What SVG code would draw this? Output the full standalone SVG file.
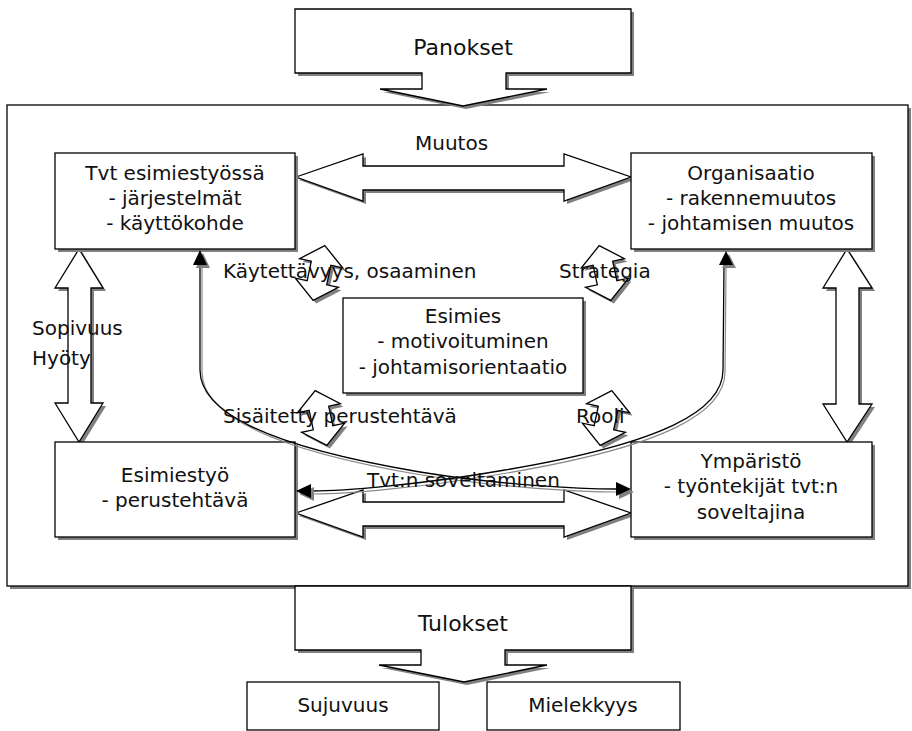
<svg xmlns="http://www.w3.org/2000/svg" width="912" height="731" viewBox="0 0 912 731">
<defs>
<style>
.box{fill:#fff;stroke:#000;stroke-width:1.3}
.sh{fill:#808080;stroke:none}
.t{font-family:"DejaVu Sans","Verdana",sans-serif;font-size:20px;fill:#111}
.tb{font-family:"DejaVu Sans","Verdana",sans-serif;font-size:22px;fill:#111}
.c{text-anchor:middle}
.ln{fill:none;stroke:#000;stroke-width:1.3}
.lns{fill:none;stroke:#8a8a8a;stroke-width:1.2}
</style>
<polygon id="ud" points="0,-28 22,-10 10,-10 10,10 22,10 0,28 -22,10 -10,10 -10,-10 -22,-10"/>
</defs>
<rect width="912" height="731" fill="#fff"/>

<!-- outer frame -->
<g id="frame">
<rect class="sh" x="10" y="108" width="901" height="481"/>
<rect class="box" x="7" y="105" width="901" height="481"/>
</g>

<!-- Panokset -->
<g id="panokset">
<path class="sh" transform="translate(3,3)" d="M295,9 H631 V73 H506 V89 H547 L463,106 L380,89 H422 V73 H295 Z"/>
<path class="box" d="M295,9 H631 V73 H506 V89 H547 L463,106 L380,89 H422 V73 H295 Z"/>
<text class="tb c" x="463" y="55">Panokset</text>
</g>

<!-- Tulokset -->
<g id="tulokset">
<path class="sh" transform="translate(3,3)" d="M295,586 H631 V650 H505 V665 H547 L464,682 L379,665 H421 V650 H295 Z"/>
<path class="box" d="M295,586 H631 V650 H505 V665 H547 L464,682 L379,665 H421 V650 H295 Z"/>
<text class="tb c" x="463" y="631">Tulokset</text>
</g>

<g id="sujuvuus">
<rect class="box" x="247" y="682" width="192" height="48"/>
<text class="t c" x="343" y="712">Sujuvuus</text>
</g>
<g id="mielekkyys">
<rect class="box" x="487" y="682" width="193" height="48"/>
<text class="t c" x="583" y="712">Mielekkyys</text>
</g>

<!-- block arrows -->
<g id="arrows">
<g id="muutos-arrow">
<path class="sh" transform="translate(3,3)" d="M296,177 L363,154 V166 H564 V154 L631,177 L564,201 V190 H363 V201 Z"/>
<path class="box" d="M296,177 L363,154 V166 H564 V154 L631,177 L564,201 V190 H363 V201 Z"/>
</g>
<g id="soveltaminen-arrow">
<path class="sh" transform="translate(3,3)" d="M296,513 L363,490 V502 H564 V490 L631,513 L564,537 V526 H363 V537 Z"/>
<path class="box" d="M296,513 L363,490 V502 H564 V490 L631,513 L564,537 V526 H363 V537 Z"/>
</g>
<g id="left-arrow">
<path class="sh" transform="translate(3,3)" d="M79,249 L103,288 H91 V403 H103 L79,442 L55,403 H68 V288 H55 Z"/>
<path class="box" d="M79,249 L103,288 H91 V403 H103 L79,442 L55,403 H68 V288 H55 Z"/>
</g>
<g id="right-arrow">
<path class="sh" transform="translate(3,3)" d="M847,249 L872,288 H859 V404 H872 L847,442 L823,404 H836 V288 H823 Z"/>
<path class="box" d="M847,249 L872,288 H859 V404 H872 L847,442 L823,404 H836 V288 H823 Z"/>
</g>
<g id="small-arrows">
<use href="#ud" class="sh" transform="translate(322,276) rotate(12)"/>
<use href="#ud" class="box" transform="translate(319,273) rotate(12)"/>
<use href="#ud" class="sh" transform="translate(608,276) rotate(-12)"/>
<use href="#ud" class="box" transform="translate(605,273) rotate(-12)"/>
<use href="#ud" class="sh" transform="translate(324,421) rotate(-12)"/>
<use href="#ud" class="box" transform="translate(321,418) rotate(-12)"/>
<use href="#ud" class="sh" transform="translate(609,421) rotate(12)"/>
<use href="#ud" class="box" transform="translate(606,418) rotate(12)"/>
</g>
</g>

<!-- nodes -->
<g id="tvt">
<rect class="sh" x="58" y="156" width="240" height="96"/>
<rect class="box" x="55" y="153" width="240" height="96"/>
<text class="t c" x="175" y="180">Tvt esimiestyössä</text>
<text class="t c" x="175" y="205">- järjestelmät</text>
<text class="t c" x="175" y="230">- käyttökohde</text>
</g>
<g id="organisaatio">
<rect class="sh" x="634" y="156" width="241" height="96"/>
<rect class="box" x="631" y="153" width="241" height="96"/>
<text class="t c" x="751" y="180">Organisaatio</text>
<text class="t c" x="751" y="205">- rakennemuutos</text>
<text class="t c" x="751" y="230">- johtamisen muutos</text>
</g>
<g id="esimies">
<rect class="sh" x="346" y="301" width="240" height="95"/>
<rect class="box" x="343" y="298" width="240" height="95"/>
<text class="t c" x="463" y="323">Esimies</text>
<text class="t c" x="463" y="348">- motivoituminen</text>
<text class="t c" x="463" y="374">- johtamisorientaatio</text>
</g>
<g id="esimiestyo">
<rect class="sh" x="58" y="445" width="240" height="95"/>
<rect class="box" x="55" y="442" width="240" height="95"/>
<text class="t c" x="175" y="482">Esimiestyö</text>
<text class="t c" x="175" y="507">- perustehtävä</text>
</g>
<g id="ymparisto">
<rect class="sh" x="634" y="445" width="241" height="95"/>
<rect class="box" x="631" y="442" width="241" height="95"/>
<text class="t c" x="751" y="468">Ympäristö</text>
<text class="t c" x="751" y="493">- työntekijät tvt:n</text>
<text class="t c" x="751" y="519">soveltajina</text>
</g>

<!-- connectors -->
<g id="connectors">
<path class="lns" d="M202,268 V372 C202,412 262,448 422,475 C502,488 582,492 618,492"/>
<path class="lns" d="M726,268 L725,372 C725,412 667,446 507,473 C422,488 342,494 314,494"/>
<path class="ln" d="M200,265 V370 C200,410 260,445 420,472 C500,485 580,489 616,489"/>
<path class="ln" d="M724,265 L723,370 C723,410 665,443 505,470 C420,485 340,491 312,491"/>
<polygon class="sh" points="203,253 210,268 196,268"/>
<polygon points="200,250 207,265 193,265" fill="#000"/>
<polygon class="sh" points="729,254 736,268 722,268"/>
<polygon points="726,251 733,265 719,265" fill="#000"/>
<polygon class="sh" points="634,492 619,485 619,499"/>
<polygon points="631,489 616,482 616,496" fill="#000"/>
<polygon class="sh" points="299,494 314,487 314,501"/>
<polygon points="296,491 311,484 311,498" fill="#000"/>
</g>

<!-- labels -->
<g id="labels">
<text class="t" x="415" y="150">Muutos</text>
<text class="t" x="223" y="278">Käytettävyys, osaaminen</text>
<text class="t" x="559" y="278">Strategia</text>
<text class="t" x="223" y="423">Sisäitetty perustehtävä</text>
<text class="t" x="576" y="423">Rooli</text>
<text class="t" x="367" y="487">Tvt:n soveltaminen</text>
<text class="t" x="32" y="335">Sopivuus</text>
<text class="t" x="32" y="365">Hyöty</text>
</g>
</svg>
